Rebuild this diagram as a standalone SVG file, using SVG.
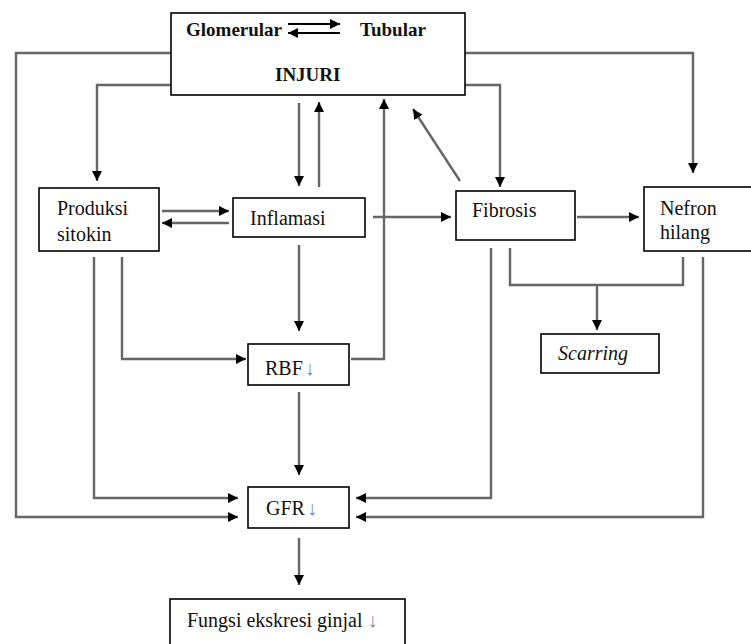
<svg xmlns="http://www.w3.org/2000/svg" width="751" height="644" viewBox="0 0 751 644">
<style>
.box{fill:#fff;stroke:#000;stroke-width:1.6}
.t{font-family:'Liberation Serif','DejaVu Serif',serif;font-size:20px;fill:#111}
.b{font-weight:bold;font-size:19px}
.i{font-style:italic}
.dn{fill:#6f8fbf}
.c{fill:none;stroke:#666;stroke-width:2.4}
.k{fill:none;stroke:#000;stroke-width:2}
</style>
<defs>
<marker id="ah" markerUnits="userSpaceOnUse" markerWidth="10" markerHeight="10" refX="10" refY="5" orient="auto">
<path d="M0,0 L10,5 L0,10 z" fill="#000"/>
</marker>
</defs>
<rect width="751" height="644" fill="#fff"/>
<g id="connectors">
<polyline class="c" points="171,53 16,53 16,517 238,517" marker-end="url(#ah)"/>
<polyline class="c" points="171,85 97,85 97,181" marker-end="url(#ah)"/>
<polyline class="c" points="465,53 693,53 693,173" marker-end="url(#ah)"/>
<polyline class="c" points="465,85 500,85 500,187" marker-end="url(#ah)"/>
<line class="c" x1="299" y1="103" x2="299" y2="186" marker-end="url(#ah)"/>
<line class="c" x1="319" y1="187" x2="319" y2="102" marker-end="url(#ah)"/>
<polyline class="c" points="351,359 384,359 384,99" marker-end="url(#ah)"/>
<line class="c" x1="460" y1="181" x2="413" y2="109" marker-end="url(#ah)"/>
<line class="c" x1="162" y1="211" x2="229" y2="211" marker-end="url(#ah)"/>
<line class="c" x1="229" y1="223" x2="162" y2="223" marker-end="url(#ah)"/>
<line class="c" x1="373" y1="217" x2="451" y2="217" marker-end="url(#ah)"/>
<line class="c" x1="577" y1="217" x2="639" y2="217" marker-end="url(#ah)"/>
<polyline class="c" points="94,257 94,498 238,498" marker-end="url(#ah)"/>
<polyline class="c" points="122,257 122,359 246,359" marker-end="url(#ah)"/>
<line class="c" x1="299" y1="245" x2="299" y2="331" marker-end="url(#ah)"/>
<line class="c" x1="299" y1="392" x2="299" y2="475" marker-end="url(#ah)"/>
<polyline class="c" points="491,248 491,498 356,498" marker-end="url(#ah)"/>
<polyline class="c" points="510,248 510,285 683,285 683,257"/>
<line class="c" x1="597" y1="285" x2="597" y2="330" marker-end="url(#ah)"/>
<polyline class="c" points="703,257 703,517 356,517" marker-end="url(#ah)"/>
<line class="c" x1="299" y1="538" x2="299" y2="585" marker-end="url(#ah)"/>
</g>
<g id="injuri">
<rect class="box" x="171" y="13" width="294" height="82"/>
<text class="t b" x="186" y="36" font-family="Liberation Serif">Glomerular</text>
<line class="k" x1="288" y1="24" x2="340" y2="24" marker-end="url(#ah)"/>
<line class="k" x1="340" y1="33" x2="288" y2="33" marker-end="url(#ah)"/>
<text class="t b" x="360" y="36" font-family="Liberation Serif">Tubular</text>
<text class="t b" x="275" y="81" font-family="Liberation Serif">INJURI</text>
</g>
<g id="produksi">
<rect class="box" x="39" y="188" width="120" height="63"/>
<text class="t" x="57" y="215" font-family="Liberation Serif">Produksi</text>
<text class="t" x="57" y="241" font-family="Liberation Serif">sitokin</text>
</g>
<g id="inflamasi">
<rect class="box" x="233" y="198" width="132" height="39"/>
<text class="t" x="250" y="225" font-family="Liberation Serif">Inflamasi</text>
</g>
<g id="fibrosis">
<rect class="box" x="456" y="191" width="119" height="49"/>
<text class="t" x="472" y="217" font-family="Liberation Serif">Fibrosis</text>
</g>
<g id="nefron">
<rect class="box" x="644" y="187" width="109" height="64"/>
<text class="t" x="660" y="215" font-family="Liberation Serif">Nefron</text>
<text class="t" x="660" y="239" font-family="Liberation Serif">hilang</text>
</g>
<g id="scarring">
<rect class="box" x="541" y="334" width="118" height="39"/>
<text class="t i" x="558" y="360" font-family="Liberation Serif">Scarring</text>
</g>
<g id="rbf">
<rect class="box" x="248" y="344" width="101" height="41"/>
<text class="t" x="265" y="375" font-family="Liberation Serif">RBF<tspan class="dn" dx="2">↓</tspan></text>
</g>
<g id="gfr">
<rect class="box" x="248" y="487" width="101" height="41"/>
<text class="t" x="266" y="515" font-family="Liberation Serif">GFR<tspan class="dn" dx="2">↓</tspan></text>
</g>
<g id="fungsi">
<rect class="box" x="170" y="599" width="235" height="60"/>
<text class="t" x="187" y="627" font-family="Liberation Serif">Fungsi ekskresi ginjal <tspan class="dn">↓</tspan></text>
</g>
</svg>
